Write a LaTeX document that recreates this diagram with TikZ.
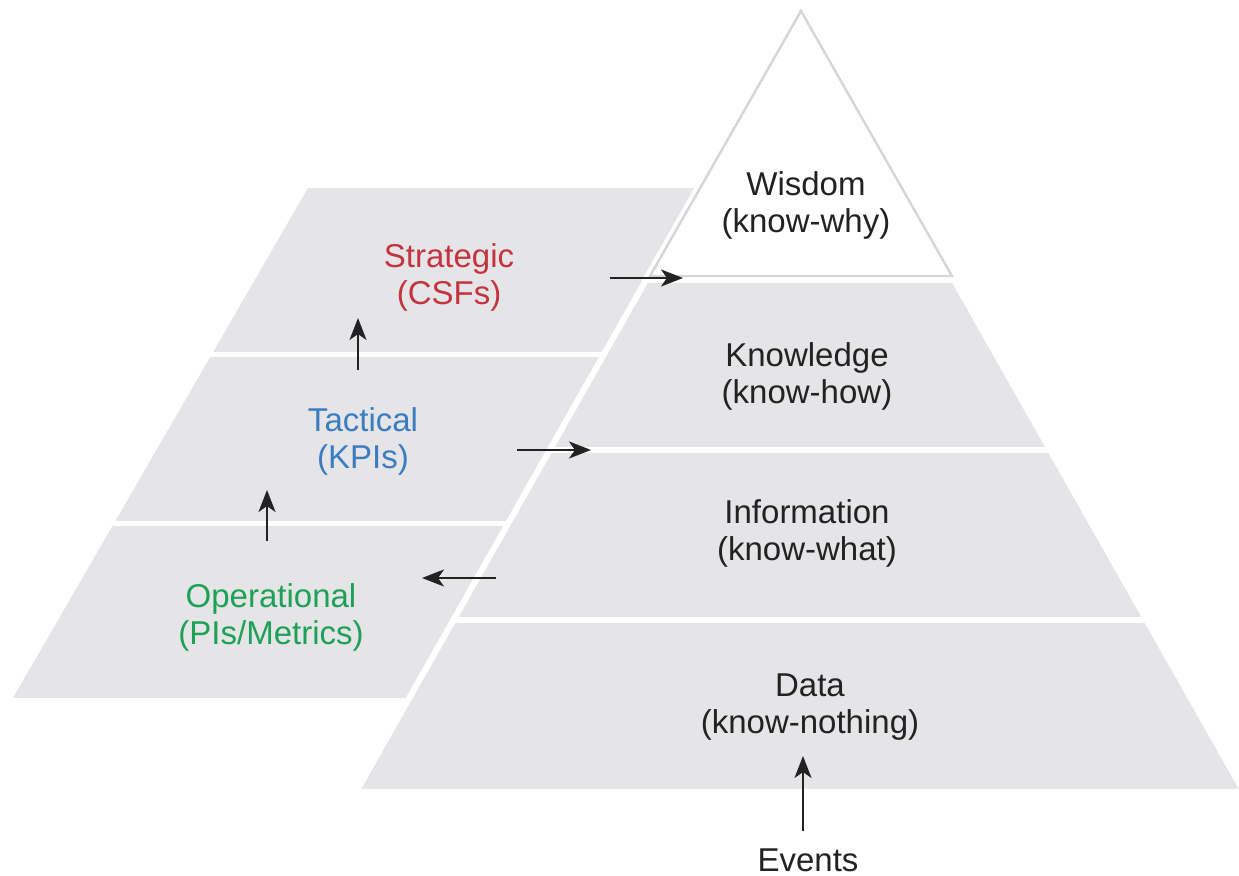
\documentclass[tikz,border=0pt]{standalone}
\usepackage{fontspec}
\setmainfont{Liberation Sans}
\usetikzlibrary{arrows.meta}
\definecolor{bandgray}{RGB}{229,229,231}
\definecolor{rimgray}{RGB}{214,214,216}
\definecolor{txtdark}{RGB}{34,34,34}
\definecolor{stratred}{RGB}{196,52,62}
\definecolor{tactblue}{RGB}{58,124,192}
\definecolor{opgreen}{RGB}{30,160,86}
\tikzset{
  x=0.5pt, y=-0.5pt,
  band/.style={fill=bandgray, draw=none},
  gapline/.style={draw=white, line width=2.6pt},
  lbl/.style={align=center, inner sep=0pt, font=\fontsize{16.5}{18.5}\selectfont},
  flow/.style={draw=txtdark, line width=1.2pt, -{Stealth[length=11pt,width=8.5pt,inset=3pt]}},
}
\begin{document}
\begin{tikzpicture}
\clip (0,0) rectangle (1239,876);
\fill[white] (0,0) rectangle (1239,876);
% left parallelogram (three tiers, partly hidden behind pyramid)
\path[band] (308,188) -- (749,188) -- (459,698) -- (13,698) -- cycle;
\draw[gapline] (0,354.5) -- (700,354.5);
\draw[gapline] (0,523.5) -- (600,523.5);
% main pyramid body (knowledge, information, data)
\path[band, draw=white, line width=3pt] (646,280) -- (954,280) -- (1244,792) -- (356,792) -- cycle;
\begin{scope}
\clip (646,280) -- (954,280) -- (1244,792) -- (356,792) -- cycle;
\draw[gapline] (300,450) -- (1239,450);
\draw[gapline] (300,620) -- (1239,620);
\end{scope}
% wisdom triangle
\path[draw=white, line width=5pt, fill=white] (801,11) -- (952,276) -- (650,276) -- cycle;
\path[draw=rimgray, line width=1.2pt, fill=white] (801,11) -- (952,276) -- (650,276) -- cycle;
% labels
\node[lbl, text=txtdark] (wis) at (806,205) {Wisdom\\(know-why)};
\node[lbl, text=txtdark] (kno) at (807,376) {Knowledge\\(know-how)};
\node[lbl, text=txtdark] (inf) at (807,533) {Information\\(know-what)};
\node[lbl, text=txtdark] (dat) at (810,707) {Data\\(know-nothing)};
\node[lbl, text=txtdark] (evt) at (808,860) {Events};
\node[lbl, text=stratred] (str) at (449,277) {Strategic\\(CSFs)};
\node[lbl, text=tactblue] (tac) at (363,441) {Tactical\\(KPIs)};
\node[lbl, text=opgreen] (ope) at (271,617) {Operational\\(PIs/Metrics)};
% arrow end points
\coordinate (sA) at (610,278);
\coordinate (sB) at (683,278);
\coordinate (tA) at (358,370);
\coordinate (tB) at (358,318);
\coordinate (oA) at (267,541);
\coordinate (oB) at (267,490);
\coordinate (kA) at (517,450);
\coordinate (kB) at (591,450);
\coordinate (iA) at (496,578);
\coordinate (iB) at (422,578);
\coordinate (eA) at (803,831);
\coordinate (eB) at (803,756);
\draw[flow] (sA) -- (sB);
\draw[flow] (tA) -- (tB);
\draw[flow] (oA) -- (oB);
\draw[flow] (kA) -- (kB);
\draw[flow] (iA) -- (iB);
\draw[flow] (eA) -- (eB);
\end{tikzpicture}
\end{document}
